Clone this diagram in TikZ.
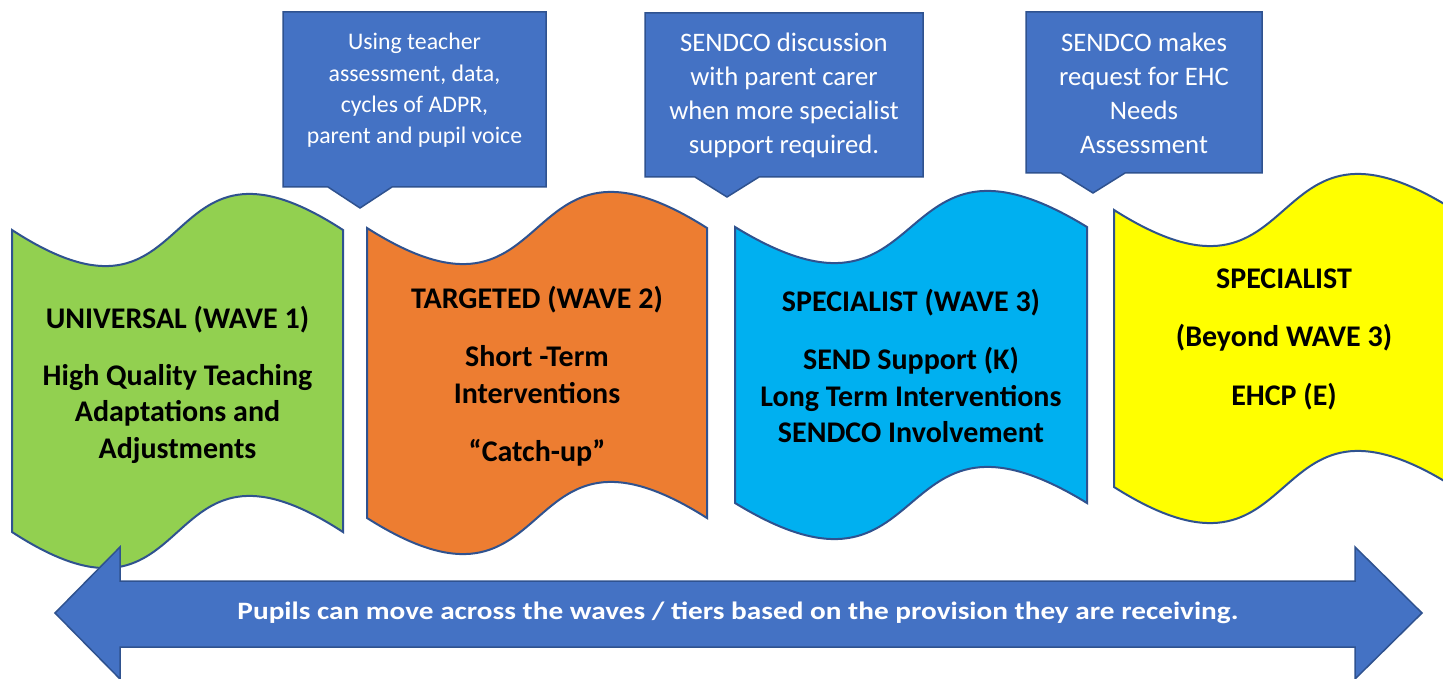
\documentclass[tikz,border=0pt]{standalone}
\usepackage{fontspec}
\setmainfont{Carlito}
\usetikzlibrary{calc}
\definecolor{wavegreen}{RGB}{146, 208, 80}
\definecolor{waveorange}{RGB}{237, 125, 49}
\definecolor{wavecyan}{RGB}{0, 176, 240}
\definecolor{waveyellow}{RGB}{255, 255, 0}
\definecolor{boxblue}{RGB}{68, 114, 196}
\definecolor{edgeblue}{RGB}{47, 82, 143}

% wave band: fill, left, right, top, bottom
\newcommand{\waveband}[5]{%
  \filldraw[fill=#1, draw=edgeblue, line width=2]
    (#2,#4) .. controls ({#2+0.58*(#3-#2)},{#4+125}) and ({#2+0.42*(#3-#2)},{#4-125}) .. (#3,#4)
    -- (#3,#5) .. controls ({#2+0.42*(#3-#2)},{#5-125}) and ({#2+0.58*(#3-#2)},{#5+125}) .. (#2,#5)
    -- cycle;}

% callout box: left, right, top, bottom, tip x, tip y
\newcommand{\calloutbox}[6]{%
  \filldraw[fill=boxblue, draw=edgeblue, line width=1.5]
    (#1,#3) -- (#2,#3) -- (#2,#4) -- ({#5+32},#4) -- (#5,#6) -- ({#5-32},#4)
    -- (#1,#4) -- cycle;}

\begin{document}
\begin{tikzpicture}[x=1pt, y=-1pt,
  wavetext/.style={font=\fontsize{30}{36.5}\selectfont\bfseries, align=center, text=black},
  boxtext/.style={font=\fontsize{26.7}{34}\selectfont, align=center, text=white},
  movetext/.style={font=\fontsize{25}{30}\selectfont\bfseries, text=white}]

\useasboundingbox (0,0) rectangle (1443,679);
\fill[white] (0,0) rectangle (1443,679);

% Bandas
\waveband{wavegreen}{12}{343}{230}{532}
\waveband{waveorange}{367}{707}{228}{518}
\waveband{wavecyan}{735}{1087}{227}{503}
\waveband{waveyellow}{1114}{1454}{210}{487}

\node[wavetext] (w1) at (177.5,385) {UNIVERSAL (WAVE 1)\\[20pt]
  High Quality Teaching\\ Adaptations and\\ Adjustments};
\node[wavetext] (w2) at (537,376) {TARGETED (WAVE 2)\\[22pt]
  Short -Term\\ Interventions\\[22pt] “Catch-up”};
\node[wavetext] (w3) at (911,366) {SPECIALIST (WAVE 3)\\[22pt]
  SEND Support (K)\\ Long Term Interventions\\ SENDCO Involvement};
\node[wavetext] (w4) at (1284,339) {SPECIALIST\\[22pt]
  (Beyond WAVE 3)\\[22pt] EHCP (E)};

% Llamadas
\calloutbox{283}{546}{12}{187}{360}{208}
\calloutbox{645}{923}{13}{177}{727}{197}
\calloutbox{1026}{1262}{12}{173}{1093}{193}

\node[boxtext, font=\fontsize{23.8}{31.3}\selectfont] (c1) at (414.5,90.5)
  {Using teacher\\ assessment, data,\\ cycles of ADPR,\\ parent and pupil voice};
\node[boxtext] (c2) at (784,95.5)
  {SENDCO discussion\\ with parent carer\\ when more specialist\\ support required.};
\node[boxtext] (c3) at (1144,93.5)
  {SENDCO makes\\ request for EHC\\ Needs\\ Assessment};

% Flecha doble
\filldraw[fill=boxblue, draw=edgeblue, line width=1.5]
  (55,613) -- (120,547) -- (120,581) -- (1355,581) -- (1355,547) -- (1422,613)
  -- (1355,679) -- (1355,647) -- (120,647) -- (120,679) -- cycle;
\node[movetext] (move) at (738,613)
  {\scalebox{1.17}[1]{Pupils can move across the waves / tiers based on the provision they are receiving.}};

\end{tikzpicture}
\end{document}
